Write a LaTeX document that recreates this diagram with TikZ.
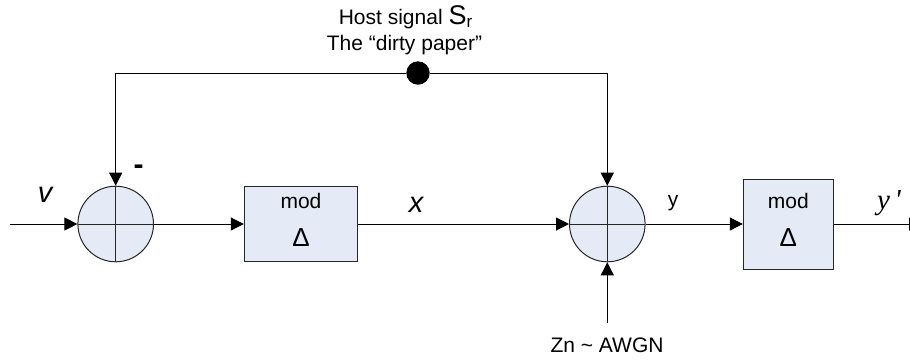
\documentclass[tikz,border=0pt]{standalone}
\usepackage{fontspec}
\setmainfont{Liberation Sans}
\newfontfamily\timesfont{Liberation Serif}
\usetikzlibrary{arrows.meta, positioning}
\definecolor{boxfill}{RGB}{228,234,246}

\begin{document}
\begin{tikzpicture}[
    x=1pt, y=-1pt,
    line width=1pt,
    >={Triangle[length=13pt, width=13pt]},
    font=\fontsize{21}{25}\selectfont,
    sum node/.style={circle, draw=black!85, fill=boxfill, minimum size=75.6pt, inner sep=0pt,
        path picture={\draw (path picture bounding box.north) -- (path picture bounding box.south)
            (path picture bounding box.west) -- (path picture bounding box.east);}},
    mod node/.style={rectangle, draw=black!85, fill=boxfill, align=center, inner sep=0pt},
    big label/.style={font=\fontsize{29}{29}\selectfont}
]
    \clip (0,0) rectangle (910,360);

    \node[sum node] (sum1) at (115.7,224) {};
    \node[mod node, minimum width=113.4pt, minimum height=75.6pt] (mod1) at (301,224) {mod\\[13pt]{\fontsize{26}{26}\selectfont Δ\rule[-8pt]{0pt}{8pt}}};
    \node[sum node] (sum2) at (607.3,224) {};
    \node[mod node, minimum width=90pt, minimum height=90pt] (mod2) at (788.3,224) {mod\\[13pt]{\fontsize{26}{26}\selectfont Δ\rule[-8pt]{0pt}{8pt}}};
    \node[circle, fill=black, minimum size=23.4pt, inner sep=0pt] (dot) at (418,73) {};

    \coordinate (in) at (10,224);
    \coordinate (out) at (922,224);
    \coordinate (noise) at (607.3,323.3);

    % signal labels
    \node[big label] (v) at (45,195) {\itshape v};
    \node[anchor=base, font=\fontsize{30}{30}\selectfont\bfseries] (minus) at (138.5,174) {-};
    \node[big label] (x) at (416,205) {\itshape x};
    \node (y) at (673,203) {y};
    \node[big label] (yout) at (889,203) {\timesfont\itshape y\,'};
    \node[anchor=base west] (host) at (335,24) {Host signal {\fontsize{27}{27}\selectfont S}\raisebox{-3pt}{\fontsize{17}{17}\selectfont r}};
    \node[anchor=base west] (paper) at (323,50.7) {The “dirty paper”};
    \node (awgn) at (607,345) {Zn \textasciitilde{} AWGN};

    \draw[->] (in) -- (sum1);
    \draw[->] (sum1) -- (mod1);
    \draw[->] (mod1) -- (sum2);
    \draw[->] (sum2) -- (mod2);
    \draw[->] (mod2) -- (out);
    \draw[->] (dot) -| (sum1); % feedback
    \draw[->] (dot) -| (sum2);
    \draw[->] (noise) -- (sum2);
\end{tikzpicture}
\end{document}
